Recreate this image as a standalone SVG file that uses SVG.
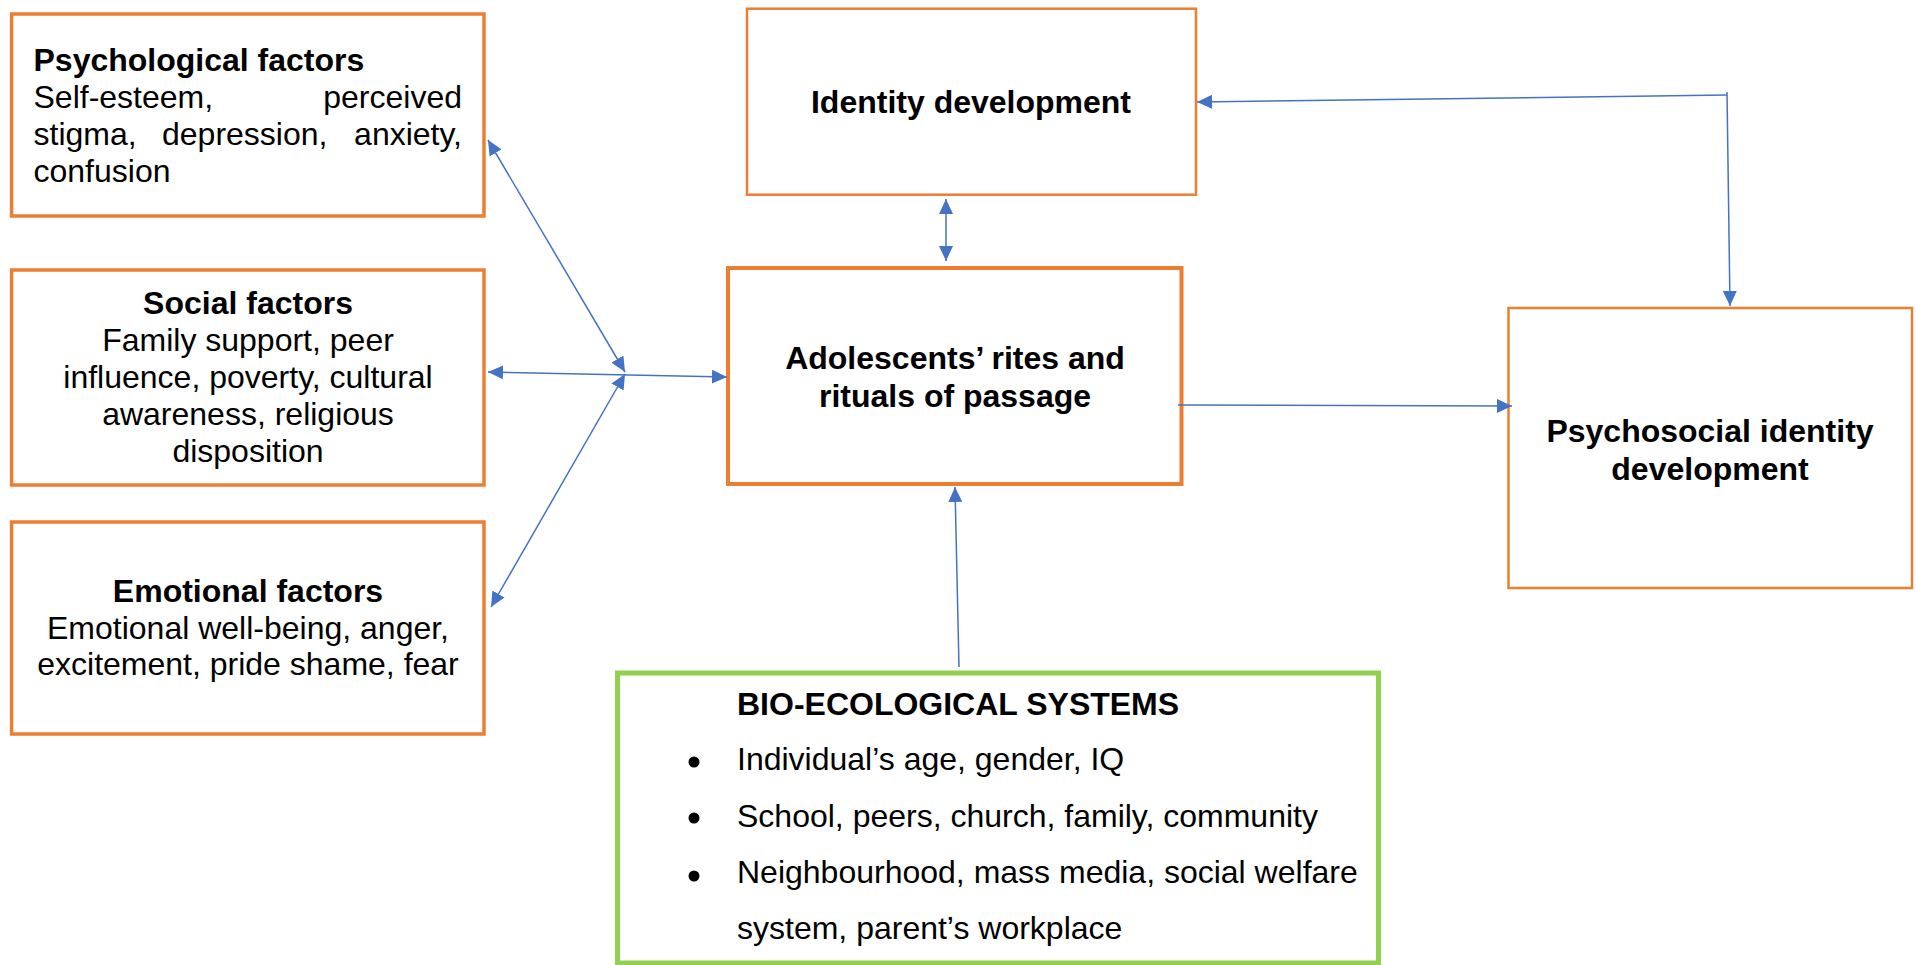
<svg xmlns="http://www.w3.org/2000/svg" width="1916" height="965" viewBox="0 0 1916 965">
  <defs>
    <style>
      .box { fill: #FFFFFF; stroke: #ED7D31; }
      .thick { stroke-width: 3.5; }
      .thin { stroke-width: 2.5; }
      .eco { fill: #FFFFFF; stroke: #92D050; stroke-width: 5; }
      text { font-family: "Liberation Sans", Arial, sans-serif; font-size: 32px; fill: #000000; }
      .b { font-weight: bold; }
      .c { text-anchor: middle; }
      .e { text-anchor: end; }
      .link { stroke: #4472C4; stroke-width: 1.5; fill: none; }
    </style>
    <marker id="ah" viewBox="0 0 15 14" refX="15" refY="7" markerWidth="15" markerHeight="14" markerUnits="userSpaceOnUse" orient="auto-start-reverse">
      <path d="M0,0 L15,7 L0,14 z" fill="#4472C4"/>
    </marker>
  </defs>

  <!-- Left column: factor boxes -->
  <g id="psychological">
    <rect class="box thick" x="11.6" y="14" width="472.4" height="202"/>
    <text class="b" x="33.5" y="71">Psychological factors</text>
    <text x="33.5" y="108">Self-esteem,</text>
    <text class="e" x="462" y="108">perceived</text>
    <text x="33.5" y="145">stigma,</text>
    <text x="162" y="145">depression,</text>
    <text class="e" x="462" y="145">anxiety,</text>
    <text x="33.5" y="182">confusion</text>
  </g>

  <g id="social">
    <rect class="box thick" x="11.6" y="270" width="472.4" height="215"/>
    <text class="b c" x="248" y="314">Social factors</text>
    <text class="c" x="248" y="351">Family support, peer</text>
    <text class="c" x="248" y="388">influence, poverty, cultural</text>
    <text class="c" x="248" y="425">awareness, religious</text>
    <text class="c" x="248" y="462">disposition</text>
  </g>

  <g id="emotional">
    <rect class="box thick" x="11.6" y="522" width="472.4" height="212"/>
    <text class="b c" x="248" y="602">Emotional factors</text>
    <text class="c" x="248" y="638.5">Emotional well-being, anger,</text>
    <text class="c" x="248" y="675">excitement, pride shame, fear</text>
  </g>

  <!-- Centre column -->
  <g id="identity">
    <rect class="box thin" x="747" y="8.7" width="449" height="186"/>
    <text class="b c" x="971" y="113">Identity development</text>
  </g>

  <g id="rites">
    <rect class="box" stroke-width="4" x="728" y="268" width="453.5" height="216"/>
    <text class="b c" x="955" y="369">Adolescents’ rites and</text>
    <text class="b c" x="955" y="407">rituals of passage</text>
  </g>

  <g id="psychosocial">
    <rect class="box thin" x="1508.5" y="308" width="403.5" height="280"/>
    <text class="b c" x="1710" y="442">Psychosocial identity</text>
    <text class="b c" x="1710" y="480">development</text>
  </g>

  <g id="bioecological">
    <rect class="eco" x="617.5" y="673" width="761" height="290"/>
    <text class="b" x="737" y="715">BIO-ECOLOGICAL SYSTEMS</text>
    <circle cx="694" cy="762" r="5.5"/>
    <text x="737" y="770">Individual’s age, gender, IQ</text>
    <circle cx="694" cy="818" r="5.5"/>
    <text x="737" y="827">School, peers, church, family, community</text>
    <circle cx="694" cy="876" r="5.5"/>
    <text x="737" y="883">Neighbourhood, mass media, social welfare</text>
    <text x="737" y="939">system, parent’s workplace</text>
  </g>

  <!-- Connectors -->
  <g id="connectors">
    <line class="link" x1="488" y1="140" x2="625" y2="372" marker-start="url(#ah)" marker-end="url(#ah)"/>
    <line class="link" x1="491" y1="607" x2="625" y2="374" marker-start="url(#ah)" marker-end="url(#ah)"/>
    <line class="link" x1="488" y1="372" x2="727" y2="377" marker-start="url(#ah)" marker-end="url(#ah)"/>
    <line class="link" x1="946" y1="199" x2="946" y2="261" marker-start="url(#ah)" marker-end="url(#ah)"/>
    <line class="link" x1="1727" y1="95" x2="1197" y2="102" marker-end="url(#ah)"/>
    <line class="link" x1="1727" y1="92" x2="1730" y2="306" marker-end="url(#ah)"/>
    <line class="link" x1="1178" y1="405" x2="1512" y2="406" marker-end="url(#ah)"/>
    <line class="link" x1="959" y1="667" x2="955" y2="487" marker-end="url(#ah)"/>
  </g>
</svg>
